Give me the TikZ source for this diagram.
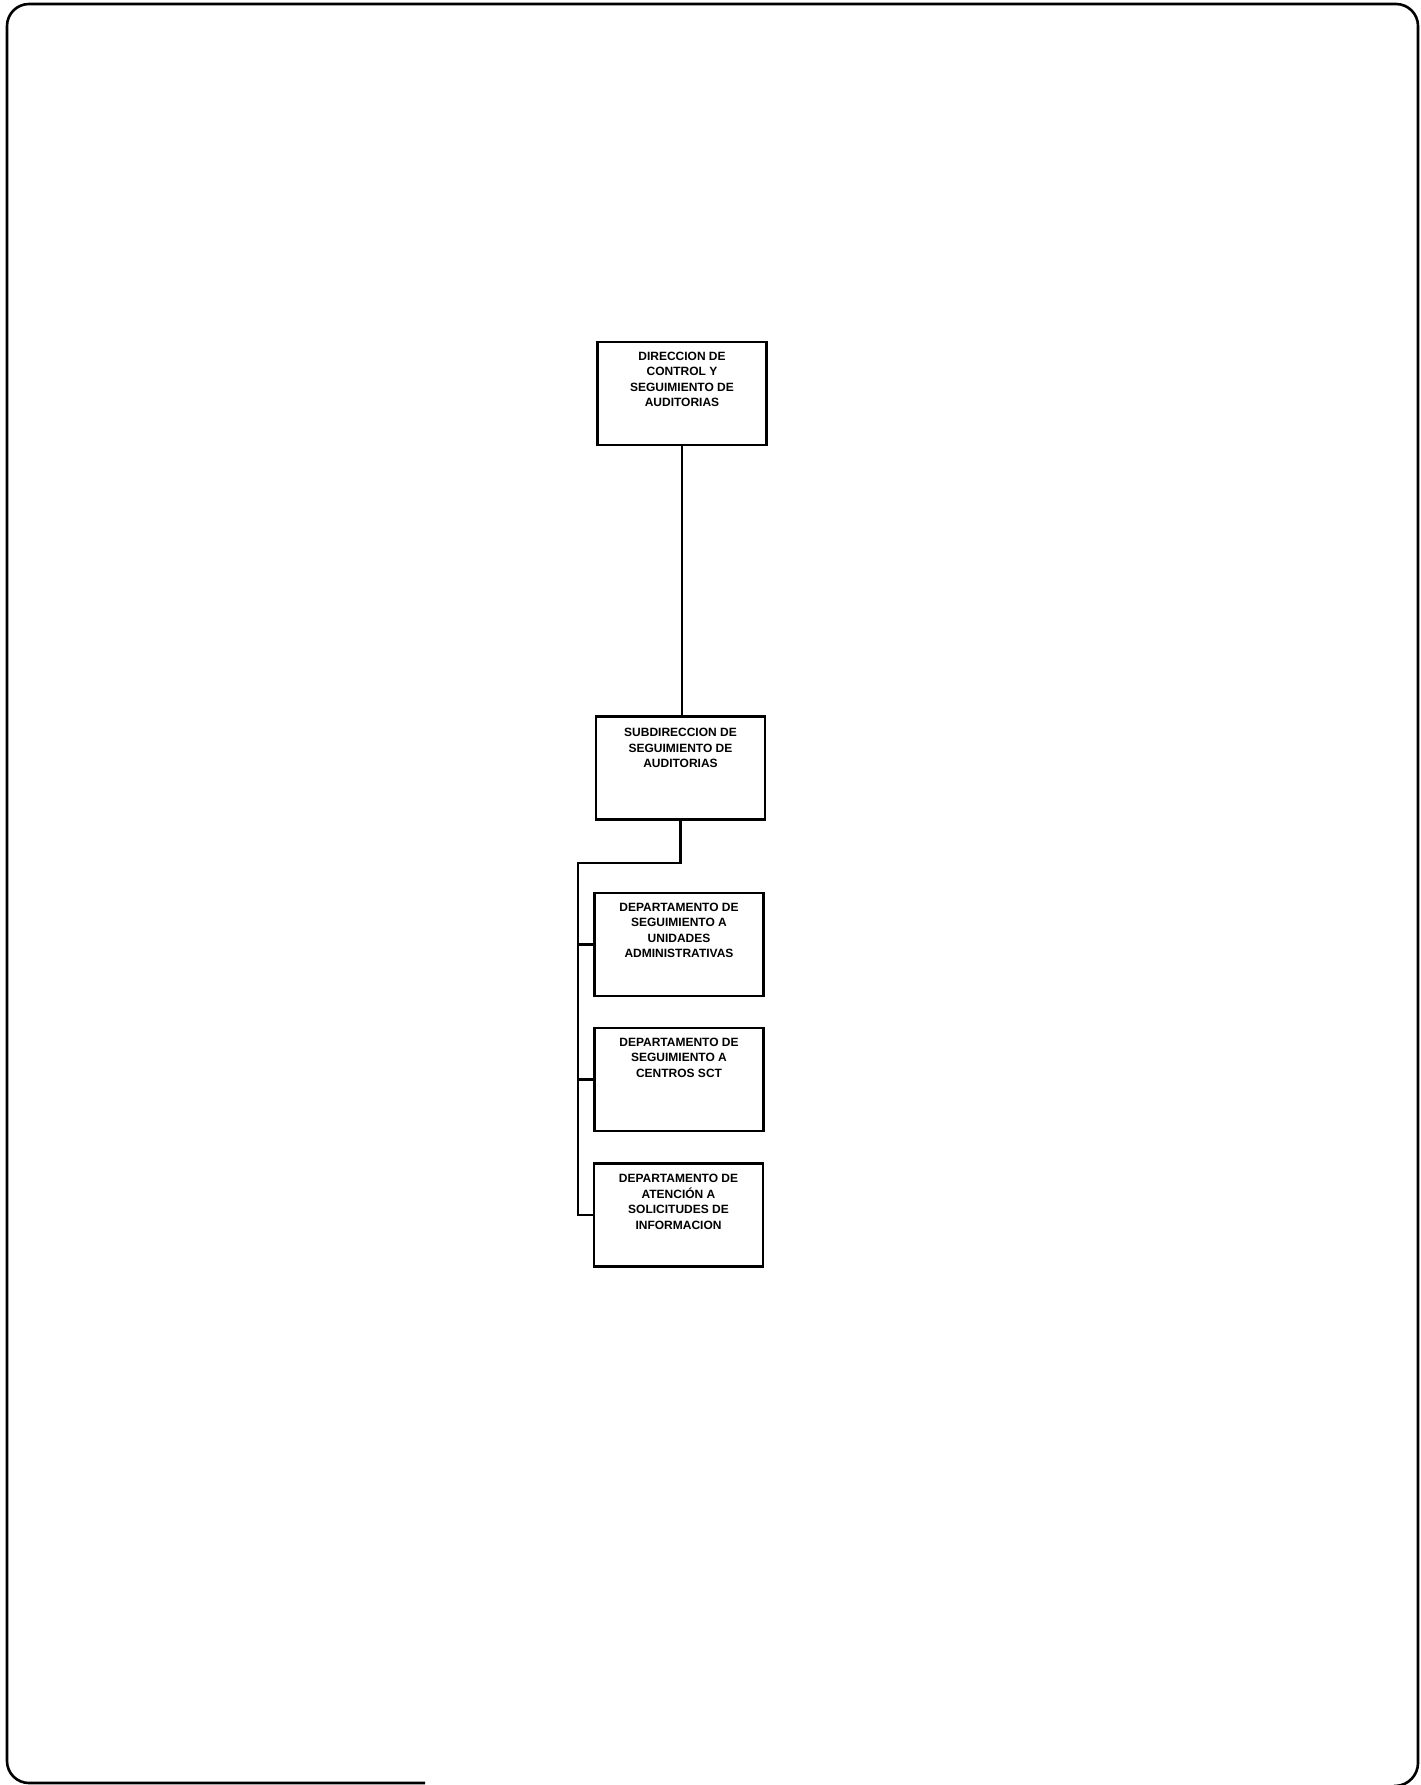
\documentclass[tikz,border=0pt]{standalone}
\usepackage{fontspec}
\setmainfont{Liberation Sans}
\usepackage{tikz}
\usetikzlibrary{positioning}
\tikzstyle{caja}=[draw, line width=2.4pt, minimum width=169pt, minimum height=103pt, inner sep=0pt]
\tikzstyle{rotulo}=[align=center, inner sep=0pt, font=\bfseries\fontsize{12}{15.5}\selectfont]
\tikzstyle{enlace}=[line width=2.2pt]
\tikzstyle{marco}=[line width=2.6pt, rounded corners=22pt]

\begin{document}
\begin{tikzpicture}[x=1pt, y=-1pt]
    \useasboundingbox (0,0) rectangle (1421,1785);

    % marco de la hoja
    \draw[marco] (425,1783) -- (7,1783) -- (7,4) -- (1418,4) -- (1418,1785) -- (1394,1786);

    % direccion
    \node[caja] (dir) at (682,393.5) {};
    \node[rotulo, below=11pt of dir.north] (dirtxt) {DIRECCION DE\\CONTROL Y\\SEGUIMIENTO DE\\AUDITORIAS};

    % subdireccion
    \node[caja] (sub) at (680.5,768) {};
    \node[rotulo, below=13pt of sub.north] (subtxt) {SUBDIRECCION DE\\SEGUIMIENTO DE\\AUDITORIAS};

    % departamentos
    \node[caja] (d1) at (679,944.5) {};
    \node[rotulo, below=11pt of d1.north] (d1txt) {DEPARTAMENTO DE\\SEGUIMIENTO A\\UNIDADES\\ADMINISTRATIVAS};
    \node[caja] (d2) at (679,1079.5) {};
    \node[rotulo, below=11pt of d2.north] (d2txt) {DEPARTAMENTO DE\\SEGUIMIENTO A\\CENTROS SCT};
    \node[caja] (d3) at (678.5,1215) {};
    \node[rotulo, below=12pt of d3.north] (d3txt) {DEPARTAMENTO DE\\ATENCIÓN A\\SOLICITUDES DE\\INFORMACION};

    % lineas de mando
    \coordinate (bus) at (578,863);
    \draw[enlace] (dir.south) -- (dir.south |- sub.north);
    \draw[enlace] (sub.south) |- (bus) -- (bus |- d3.west) -- (d3.west);
    \foreach \d in {d1,d2}
        \draw[enlace] (bus |- \d.west) -- (\d.west);
\end{tikzpicture}
\end{document}
